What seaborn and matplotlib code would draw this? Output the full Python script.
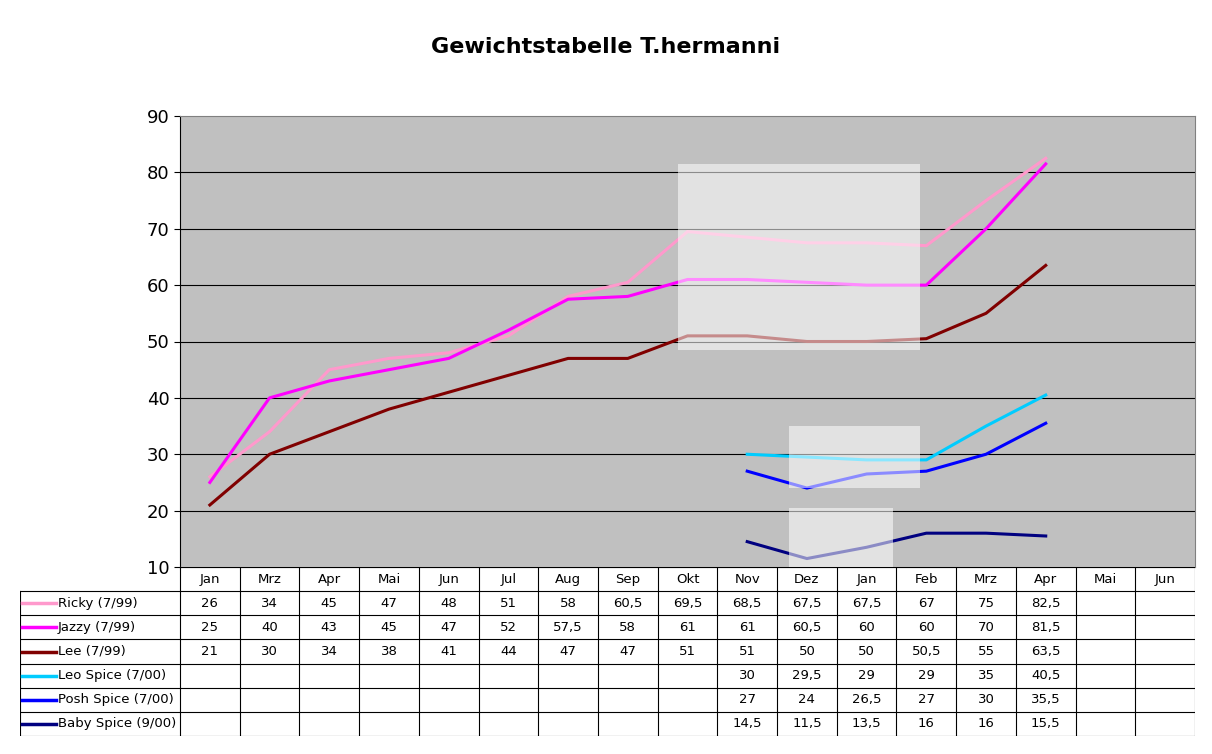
import numpy as np
import pandas as pd
import seaborn as sns
import matplotlib.pyplot as plt
from matplotlib.patches import Rectangle

months = ["Jan", "Mrz", "Apr", "Mai", "Jun", "Jul", "Aug", "Sep", "Okt", "Nov",
          "Dez", "Jan", "Feb", "Mrz", "Apr", "Mai", "Jun"]
names = ["Ricky (7/99)", "Jazzy (7/99)", "Lee (7/99)",
         "Leo Spice (7/00)", "Posh Spice (7/00)", "Baby Spice (9/00)"]
colors = ["#FF99CC", "#FF00FF", "#800000", "#00CCFF", "#0000FF", "#000080"]
nan = np.nan
ricky = [26, 34, 45, 47, 48, 51, 58, 60.5, 69.5, 68.5, 67.5, 67.5, 67, 75, 82.5, nan, nan]
jazzy = [25, 40, 43, 45, 47, 52, 57.5, 58, 61, 61, 60.5, 60, 60, 70, 81.5, nan, nan]
lee = [21, 30, 34, 38, 41, 44, 47, 47, 51, 51, 50, 50, 50.5, 55, 63.5, nan, nan]
leo = [nan] * 9 + [30, 29.5, 29, 29, 35, 40.5, nan, nan]
posh = [nan] * 9 + [27, 24, 26.5, 27, 30, 35.5, nan, nan]
baby = [nan] * 9 + [14.5, 11.5, 13.5, 16, 16, 15.5, nan, nan]
series = [ricky, jazzy, lee, leo, posh, baby]

rows = []
for n, vals in zip(names, series):
    for i, v in enumerate(vals):
        rows.append({"idx": i, "name": n, "value": v})
df = pd.DataFrame(rows).dropna()

fig = plt.figure(figsize=(12.12, 7.54), dpi=100)
fig.patch.set_facecolor("white")
ax = fig.add_axes([180 / 1212, 1 - 567 / 754, 1015 / 1212, 451 / 754])
ax.set_facecolor("#C0C0C0")
for y in range(20, 90, 10):
    ax.axhline(y, color="black", lw=0.8, zorder=1)
sns.lineplot(data=df, x="idx", y="value", hue="name", palette=dict(zip(names, colors)),
             hue_order=names, lw=2.2, ax=ax, legend=False, zorder=3)
# translucent highlight boxes
for (x0, x1, y0, y1) in [(7.84, 11.9, 48.5, 81.5), (9.7, 11.9, 24, 35), (9.7, 11.45, 10, 20.5)]:
    ax.add_patch(Rectangle((x0, y0), x1 - x0, y1 - y0, facecolor="white", alpha=0.55,
                           edgecolor="none", zorder=4))
ax.set_xlim(-0.5, 16.5)
ax.set_ylim(10, 90)
ax.set_yticks(range(10, 100, 10))
ax.set_xticks([])
ax.set_xlabel("")
ax.set_ylabel("")
ax.tick_params(axis="y", labelsize=13, length=4)
for s in ax.spines.values():
    s.set_color("#808080")
ax.spines["left"].set_color("black")

fig.text(0.5, 1 - 47 / 754, "Gewichtstabelle T.hermanni", ha="center", va="center",
         fontsize=16, fontweight="bold")

# data table
left_w = 160 / 59.7
tab = fig.add_axes([20 / 1212, 1 - 736 / 754, 1175 / 1212, 169 / 754])
tab.set_xlim(-0.5 - left_w, 16.5)
tab.set_ylim(7, 0)
tab.axis("off")
kw = dict(color="black", lw=0.8)
tab.plot([-0.5, 16.5], [0, 0], **kw)
for r in range(1, 8):
    tab.plot([-0.5 - left_w, 16.5], [r, r], **kw)
tab.plot([-0.5 - left_w] * 2, [1, 7], **kw)
for c in range(18):
    tab.plot([c - 0.5] * 2, [0, 7], **kw)
for i, m in enumerate(months):
    tab.text(i, 0.5, m, ha="center", va="center", fontsize=9.5)
for r, (n, col, vals) in enumerate(zip(names, colors, series)):
    yc = r + 1.5
    x0 = -0.5 - left_w
    tab.plot([x0 + 0.04, x0 + 0.6], [yc, yc], color=col, lw=2.5)
    tab.text(x0 + 0.63, yc, n, ha="left", va="center", fontsize=9.5)
    for i, v in enumerate(vals):
        if not np.isnan(v):
            s = (f"{v:g}").replace(".", ",")
            tab.text(i, yc, s, ha="center", va="center", fontsize=9.5)

fig.savefig("out.png", dpi=100)
